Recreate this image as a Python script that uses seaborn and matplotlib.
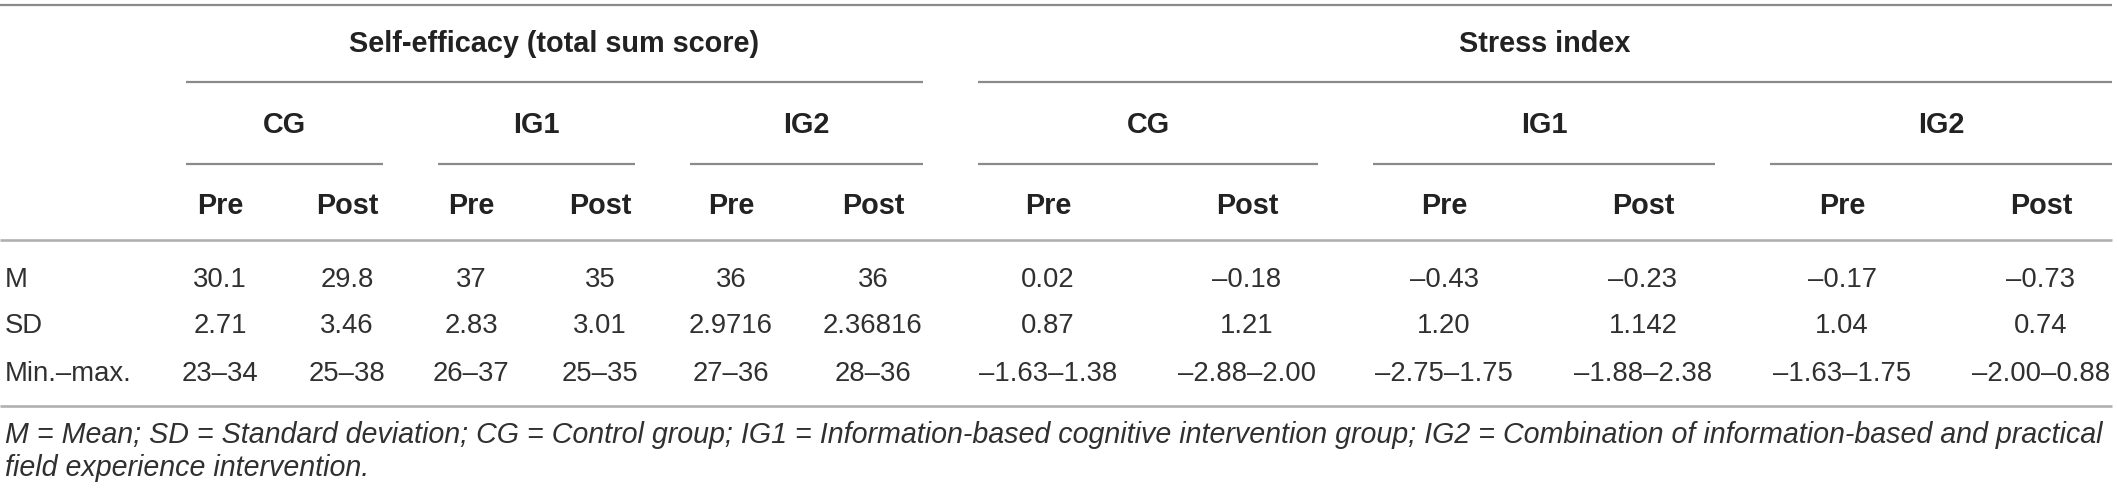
import matplotlib
matplotlib.use("Agg")
import matplotlib.pyplot as plt
import seaborn as sns

# ---- table content ----
MEASURES = ["Self-efficacy (total sum score)", "Stress index"]
GROUPS = ["CG", "IG1", "IG2"]
TIMES = ["Pre", "Post"]
ROW_LABELS = ["M", "SD", "Min.\u2013max."]

# one list per row, columns: CG pre/post, IG1 pre/post, IG2 pre/post
SELF_M = ["30.1", "29.8", "37", "35", "36", "36"]
SELF_SD = ["2.71", "3.46", "2.83", "3.01", "2.9716", "2.36816"]
SELF_RANGE = ["23\u201334", "25\u201338", "26\u201337", "25\u201335", "27\u201336", "28\u201336"]

STRESS_M = ["0.02", "\u20130.18", "\u20130.43", "\u20130.23", "\u20130.17", "\u20130.73"]
STRESS_SD = ["0.87", "1.21", "1.20", "1.142", "1.04", "0.74"]
STRESS_RANGE = ["\u20131.63\u20131.38", "\u20132.88\u20132.00", "\u20132.75\u20131.75",
                "\u20131.88\u20132.38", "\u20131.63\u20131.75", "\u20132.00\u20130.88"]

FOOTNOTE = [
    "M = Mean; SD = Standard deviation; CG = Control group; IG1 = Information-based "
    "cognitive intervention group; IG2 = Combination of information-based and practical",
    "field experience intervention.",
]

# ---- layout (pixels of a 2117 x 492 canvas) ----
W, H = 2117, 492
COL_X = [220, 347, 471, 600, 731, 873, 1048, 1247, 1444, 1643, 1842, 2041]
GROUP_SPANS = [(186, 383), (438, 635), (690, 923), (978, 1318), (1373, 1715), (1770, 2112)]
MEASURE_SPANS = [(186, 923), (978, 2112)]
ROW_BASE = [287, 333, 381]

TEXT = "#222222"
BODY = "#303030"
sns.set_theme(style="white")
plt.rcParams["font.family"] = ["Liberation Sans", "DejaVu Sans"]

fig = plt.figure(figsize=(W / 100, H / 100), dpi=100)
ax = fig.add_axes([0, 0, 1, 1])
ax.set_xlim(0, W)
ax.set_ylim(H, 0)
ax.axis("off")


def hline(x0, x1, y, color="#8a8a8a", lw=1.6):
    ax.plot([x0, x1], [y, y], color=color, lw=lw, solid_capstyle="butt")


# rules
hline(0, 2112, 5, "#8a8a8a")
hline(0, 2112, 240, "#b0b0b0", 1.9)
hline(0, 2112, 406, "#b0b0b0", 1.9)

# measure headers
for name, (x0, x1) in zip(MEASURES, MEASURE_SPANS):
    ax.text((x0 + x1) / 2, 52, name, ha="center", va="baseline",
            fontsize=20.8, fontweight="bold", color=TEXT)
    hline(x0, x1, 82)

# group headers + Pre/Post
for k, (x0, x1) in enumerate(GROUP_SPANS):
    ax.text((x0 + x1) / 2, 133, GROUPS[k % 3], ha="center", va="baseline",
            fontsize=20.8, fontweight="bold", color=TEXT)
    hline(x0, x1, 164)
    for j, t in enumerate(TIMES):
        ax.text(COL_X[2 * k + j], 214, t, ha="center", va="baseline",
                fontsize=20.8, fontweight="bold", color=TEXT)

# body
rows = [SELF_M + STRESS_M, SELF_SD + STRESS_SD, SELF_RANGE + STRESS_RANGE]
for label, vals, yb in zip(ROW_LABELS, rows, ROW_BASE):
    ax.text(5, yb, label, ha="left", va="baseline", fontsize=19.8, color=BODY)
    for x, v in zip(COL_X, vals):
        ax.text(x, yb, v, ha="center", va="baseline", fontsize=19.8, color=BODY)

# footnote
for line, yb in zip(FOOTNOTE, [443, 476]):
    ax.text(5, yb, line, ha="left", va="baseline", fontsize=20.6,
            fontstyle="italic", color=BODY)

fig.savefig("out.png", dpi=100)
plt.close(fig)
